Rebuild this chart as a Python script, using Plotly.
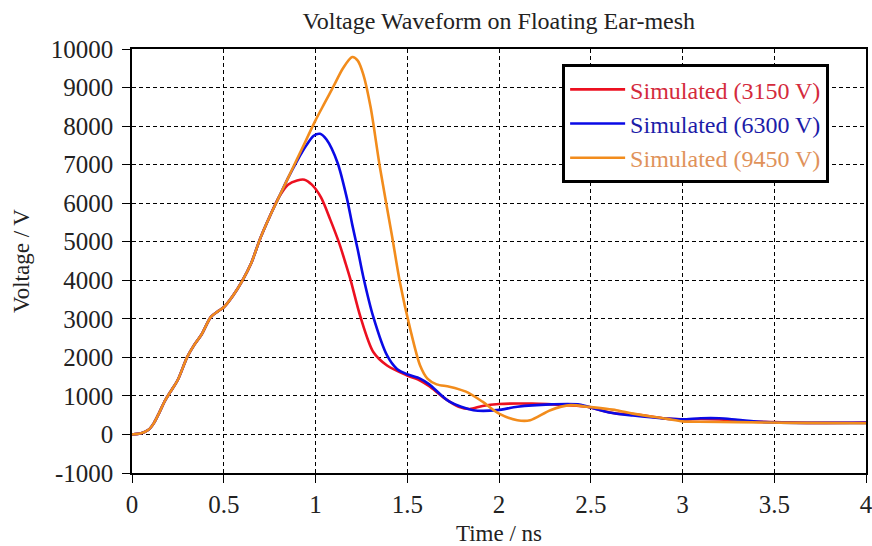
import plotly.graph_objects as go

# Shared leading edge of the pulse (all three cases coincide here)
rise_t = [0, 0.05, 0.09, 0.12, 0.15, 0.18, 0.21, 0.25, 0.30, 0.34, 0.38, 0.43,
          0.47, 0.50, 0.55, 0.60, 0.65, 0.70, 0.75, 0.80]
rise_v = [0, 30, 120, 300, 580, 880, 1110, 1420, 2000, 2330, 2600, 3050,
          3200, 3300, 3600, 3980, 4450, 5100, 5650, 6150]

# 3150 V case
t_3150 = [0.85, 0.90, 0.94, 0.98, 1.03, 1.08, 1.13, 1.16, 1.19, 1.245, 1.315, 1.39,
          1.50, 1.57, 1.62, 1.70, 1.78, 1.84, 1.91, 2.00, 2.18, 2.37, 2.48, 2.56,
          2.64, 2.73, 2.82, 2.91, 3.00, 3.10, 3.20, 3.35, 3.50, 3.75, 4.00]
v_3150 = [6480, 6590, 6610, 6480, 6150, 5580, 4950, 4500, 4030, 3050, 2140, 1790,
          1530, 1400, 1250, 950, 720, 660, 740, 790, 800, 760, 720, 620,
          540, 530, 470, 410, 390, 400, 390, 340, 320, 300, 310]

# 6300 V case
t_6300 = [0.85, 0.90, 0.95, 0.99, 1.025, 1.06, 1.12, 1.17, 1.20, 1.23, 1.26, 1.315,
          1.39, 1.444, 1.50, 1.57, 1.62, 1.73, 1.86, 1.99, 2.10, 2.28, 2.43, 2.60,
          2.73, 2.91, 3.00, 3.10, 3.20, 3.30, 3.45, 3.70, 4.00]
v_6300 = [6650, 7100, 7500, 7750, 7800, 7650, 7050, 6150, 5450, 4800, 4100, 3050,
          2050, 1700, 1560, 1450, 1300, 850, 630, 630, 720, 780, 780, 570,
          490, 410, 390, 420, 420, 380, 320, 300, 300]

# 9450 V case
t_9450 = [0.85, 0.90, 0.95, 1.00, 1.05, 1.10, 1.15, 1.20, 1.23, 1.26, 1.30, 1.35,
          1.417, 1.46, 1.516, 1.57, 1.61, 1.66, 1.73, 1.82, 1.91, 2.00, 2.10, 2.17,
          2.28, 2.39, 2.48, 2.64, 2.73, 2.91, 3.00, 3.09, 3.30, 3.60, 4.00]
v_9450 = [6650, 7150, 7650, 8150, 8600, 9050, 9500, 9790, 9700, 9350, 8500, 6960,
          5150, 3950, 2740, 1790, 1450, 1300, 1240, 1110, 850, 540, 370, 370,
          630, 760, 720, 630, 540, 410, 340, 330, 320, 300, 290]

series = [
    ("Simulated (3150 V)", t_3150, v_3150, "#ec1020", "#d42a3c"),
    ("Simulated (6300 V)", t_6300, v_6300, "#0a0ae6", "#1c1ca8"),
    ("Simulated (9450 V)", t_9450, v_9450, "#f28c1c", "#e0925a"),
]

x_ticks = [0, 0.5, 1, 1.5, 2, 2.5, 3, 3.5, 4]
y_ticks = list(range(-1000, 10001, 1000))

SERIF = "Times New Roman, Liberation Serif, serif"

fig = go.Figure()
for name, t, v, line_col, text_col in series:
    fig.add_trace(go.Scatter(
        x=rise_t + t,
        y=rise_v + v,
        mode="lines",
        line=dict(color=line_col, width=2.6, shape="spline", smoothing=0.8),
        name=f'<span style="color:{text_col}">{name}</span>',
    ))

axis_common = dict(
    showline=True, linecolor="black", linewidth=1.5, mirror=True,
    ticks="outside", ticklen=8, tickcolor="black", tickwidth=1,
    showgrid=True, gridcolor="black", gridwidth=1, griddash="4px,3px",
    zeroline=False, automargin=False, ticklabeloverflow="allow",
    tickfont=dict(family=SERIF, size=25, color="#222"),
)

fig.update_xaxes(
    range=[0, 4], tickvals=x_ticks, ticktext=[f"{v:g}" for v in x_ticks],
    title=dict(text="Time / ns", font=dict(family=SERIF, size=23, color="#222"), standoff=14),
    **axis_common,
)
fig.update_yaxes(
    range=[-1000, 10000], tickvals=y_ticks, ticktext=[str(v) for v in y_ticks],
    ticklabelstandoff=4,
    title=dict(text="Voltage / V", font=dict(family=SERIF, size=23, color="#222"), standoff=15),
    **axis_common,
)

fig.update_layout(
    width=872, height=546,
    margin=dict(l=132, r=6, t=49, b=73),
    paper_bgcolor="white", plot_bgcolor="white",
    title=dict(text="Voltage Waveform on Floating Ear-mesh",
               font=dict(family=SERIF, size=24, color="#222"),
               x=0.572, xanchor="center", y=0.963, yanchor="middle"),
    legend=dict(
        x=0.586, y=0.964, xanchor="left", yanchor="top",
        bgcolor="white", bordercolor="black", borderwidth=3,
        font=dict(family=SERIF, size=24),
        itemwidth=55,
    ),
    showlegend=True,
)

fig.write_html("out.html")
